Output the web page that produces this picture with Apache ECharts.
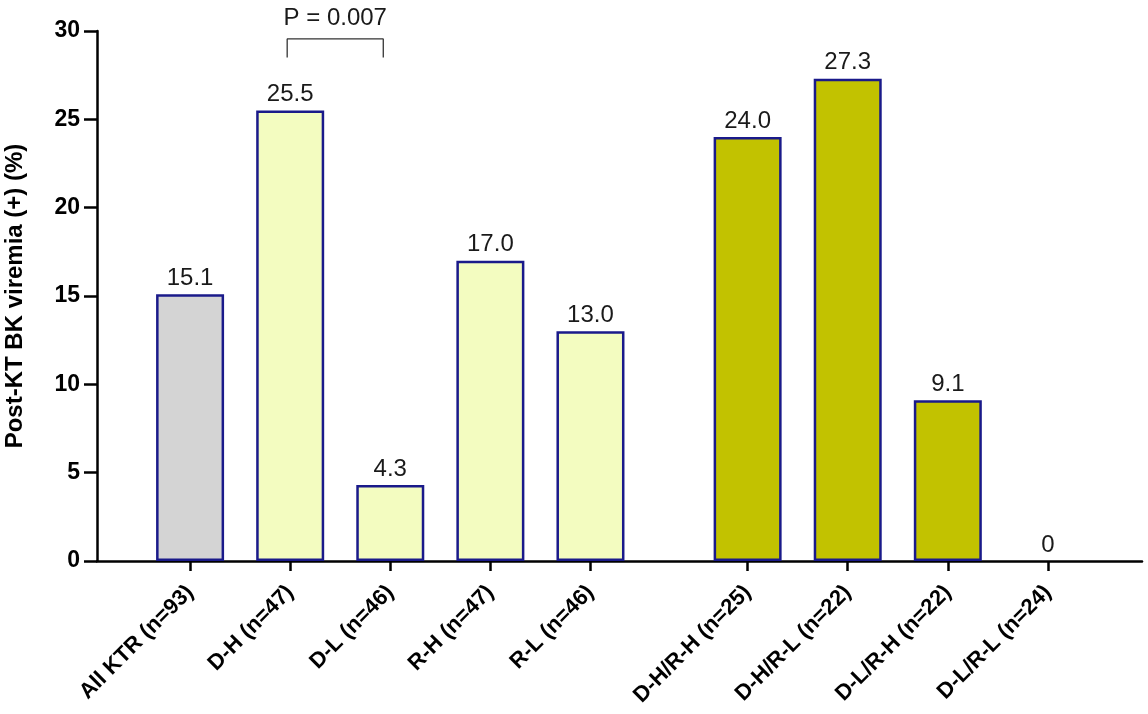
<!DOCTYPE html>
<html lang="en">
<head>
    <meta charset="UTF-8">
    <title>Post-KT BK viremia</title>
    <style>
        body { margin: 0; background: #fff; }
        #main { width: 1148px; height: 714px; }
    </style>
</head>
<body>
<div id="main"></div>
<script src="https://cdn.jsdelivr.net/npm/echarts@6/dist/echarts.min.js"></script>
<script>
    // data
    const categories = ['All KTR (n=93)', 'D-H (n=47)', 'D-L (n=46)', 'R-H (n=47)', 'R-L (n=46)',
        'D-H/R-H (n=25)', 'D-H/R-L (n=22)', 'D-L/R-H (n=22)', 'D-L/R-L (n=24)'];
    const values = [15.1, 25.5, 4.3, 17.0, 13.0, 24.0, 27.3, 9.1, 0];
    const groups = ['all', 'single', 'single', 'single', 'single', 'combo', 'combo', 'combo', 'combo'];
    const yTicks = [0, 5, 10, 15, 20, 25, 30];
    const pText = 'P = 0.007';

    // layout: the combined groups sit a little further right than one slot
    const groupGap = 0.57;
    const fills = { all: '#d4d4d4', single: '#f3fcc0', combo: '#c2c200' };
    const font = 'Liberation Sans, Arial, sans-serif';

    const xPos = categories.map((c, i) => i + (groups[i] === 'combo' ? groupGap : 0));

    const barData = values.map((v, i) => ({
        value: [xPos[i], v],
        // a zero bar has no visible outline in the original
        itemStyle: { color: fills[groups[i]], borderWidth: v === 0 ? 0 : 2.5 }
    }));

    function nameAt(v) {
        let best = 0;
        xPos.forEach((p, i) => { if (Math.abs(p - v) < Math.abs(xPos[best] - v)) best = i; });
        return categories[best];
    }

    // bracket between D-H and D-L
    const bracketLow = 28.5, bracketHigh = 29.55;
    const bx1 = xPos[1] - 0.03, bx2 = xPos[2] - 0.07;

    const myChart = echarts.init(document.getElementById('main'));
    myChart.setOption({
        animation: false,
        textStyle: { fontFamily: font },
        grid: { left: 97, right: 6, top: 31, bottom: 153, outerBoundsMode: 'none' },
        xAxis: {
            type: 'value',
            min: -0.93,
            max: xPos[8] + 0.94,
            splitLine: { show: false },
            axisLine: { show: true, lineStyle: { color: '#000', width: 2.5 } },
            axisTick: { show: true, length: 10, customValues: xPos, lineStyle: { color: '#000', width: 2.5 } },
            axisLabel: {
                customValues: xPos,
                rotate: 45,
                margin: 28,
                fontSize: 22,
                fontWeight: 'bold',
                color: '#000',
                fontFamily: font,
                formatter: v => nameAt(v)
            }
        },
        yAxis: {
            type: 'value',
            min: 0,
            max: 30,
            interval: 5,
            name: 'Post-KT BK viremia (+) (%)',
            nameLocation: 'middle',
            nameGap: 70,
            nameTextStyle: { fontSize: 24, fontWeight: 'bold', color: '#000', fontFamily: font },
            splitLine: { show: false },
            axisLine: { show: true, onZero: false, lineStyle: { color: '#000', width: 2.5 } },
            axisTick: { show: true, length: 13, lineStyle: { color: '#000', width: 2.5 } },
            axisLabel: {
                margin: 17,
                fontSize: 23,
                fontWeight: 'bold',
                color: '#000',
                fontFamily: font,
                customValues: yTicks
            }
        },
        series: [
            {
                type: 'bar',
                barWidth: 68,
                data: barData,
                itemStyle: { borderColor: '#1a1a8a' },
                label: {
                    show: true,
                    position: 'top',
                    distance: 4,
                    fontSize: 24,
                    color: '#1a1a1a',
                    fontFamily: font,
                    formatter: p => (p.value[1] === 0 ? '0' : p.value[1].toFixed(1))
                }
            },
            {
                type: 'line',
                data: [[bx1, bracketLow], [bx1, bracketHigh], [bx2, bracketHigh], [bx2, bracketLow]],
                symbol: 'none',
                lineStyle: { color: '#333', width: 1.3 },
                silent: true
            },
            {
                type: 'scatter',
                data: [[(bx1 + bx2) / 2, bracketHigh]],
                symbolSize: 0,
                itemStyle: { opacity: 1 },
                silent: true,
                label: {
                    show: true,
                    position: 'top',
                    distance: 9,
                    fontSize: 24,
                    color: '#1a1a1a',
                    fontFamily: font,
                    formatter: pText
                }
            }
        ]
    });
</script>
</body>
</html>
